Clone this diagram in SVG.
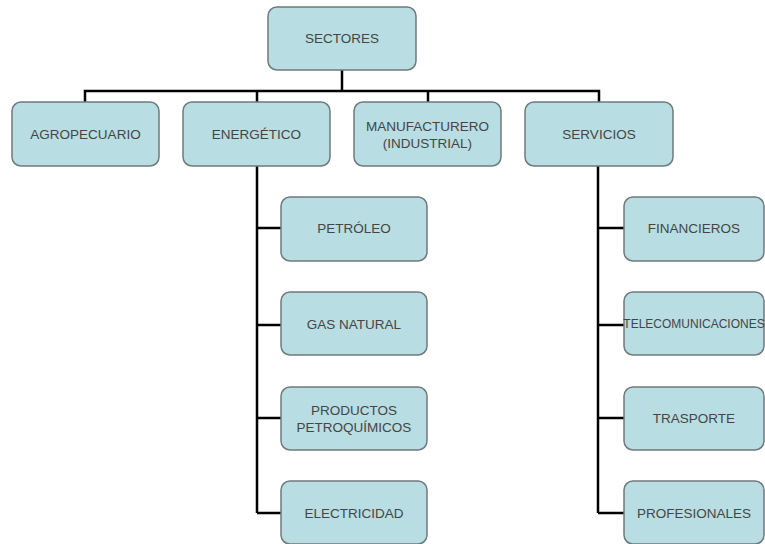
<svg xmlns="http://www.w3.org/2000/svg" width="765" height="544" viewBox="0 0 765 544">
<style>
.box{fill:#b8dde2;stroke:#6f7a7c;stroke-width:1.5}
.t{font-family:"Liberation Sans",Arial,sans-serif;font-size:13.5px;fill:#454545;text-anchor:middle;dominant-baseline:central}
.s{font-size:12px}
.c{fill:none;stroke:#000;stroke-width:2.5}
</style>
<rect width="765" height="544" fill="#fff"/>
<g id="connectors">
<path class="c" d="M342 70V91M85 102V91H599V102M257 91V102M428 91V102"/>
<path class="c" d="M257 166V513M257 228H281M257 325H281M257 418H281M257 513H281"/>
<path class="c" d="M598 166V513M598 228H624M598 325H624M598 418H624M598 513H624"/>
</g>
<g id="sectores"><rect class="box" x="268" y="7" width="148" height="63" rx="9"/><text class="t" x="342" y="38.5">SECTORES</text></g>
<g id="agropecuario"><rect class="box" x="12" y="102" width="147" height="64" rx="9"/><text class="t" x="85.5" y="134">AGROPECUARIO</text></g>
<g id="energetico"><rect class="box" x="183" y="102" width="147" height="64" rx="9"/><text class="t" x="256.5" y="134">ENERGÉTICO</text></g>
<g id="manufacturero"><rect class="box" x="354" y="102" width="147" height="64" rx="9"/><text class="t" x="427.5" y="126">MANUFACTURERO</text><text class="t" x="427.5" y="143">(INDUSTRIAL)</text></g>
<g id="servicios"><rect class="box" x="525" y="102" width="148" height="64" rx="9"/><text class="t" x="599" y="134">SERVICIOS</text></g>
<g id="petroleo"><rect class="box" x="281" y="197" width="146" height="64" rx="9"/><text class="t" x="354" y="228">PETRÓLEO</text></g>
<g id="gasnatural"><rect class="box" x="281" y="292" width="146" height="63" rx="9"/><text class="t" x="354" y="324">GAS NATURAL</text></g>
<g id="productos"><rect class="box" x="281" y="387" width="146" height="63" rx="9"/><text class="t" x="354" y="410">PRODUCTOS</text><text class="t" x="354" y="427">PETROQUÍMICOS</text></g>
<g id="electricidad"><rect class="box" x="281" y="481" width="146" height="63" rx="9"/><text class="t" x="354" y="513">ELECTRICIDAD</text></g>
<g id="financieros"><rect class="box" x="624" y="197" width="140" height="64" rx="9"/><text class="t" x="694" y="228">FINANCIEROS</text></g>
<g id="telecomunicaciones"><rect class="box" x="624" y="292" width="140" height="63" rx="9"/><text class="t s" x="694" y="324">TELECOMUNICACIONES</text></g>
<g id="trasporte"><rect class="box" x="624" y="387" width="140" height="63" rx="9"/><text class="t" x="694" y="418">TRASPORTE</text></g>
<g id="profesionales"><rect class="box" x="624" y="481" width="140" height="63" rx="9"/><text class="t" x="694" y="513">PROFESIONALES</text></g>
</svg>
